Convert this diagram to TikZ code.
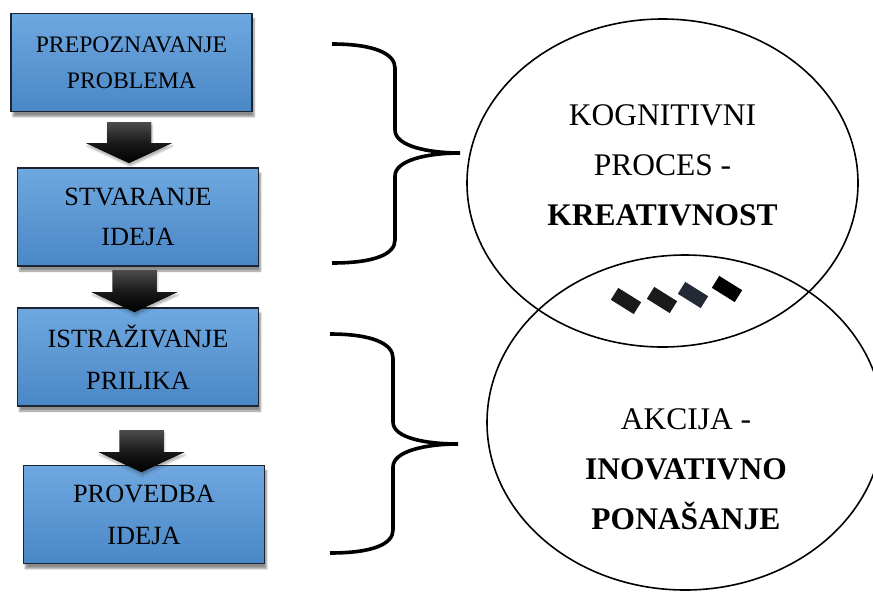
\documentclass[tikz,border=0pt]{standalone}
\usepackage{fontspec}
\setmainfont{Liberation Serif}
\usetikzlibrary{shadows.blur,shapes.geometric}
\definecolor{boxtop}{HTML}{6FA8E0}
\definecolor{boxbot}{HTML}{4A87C6}
\definecolor{boxline}{HTML}{1C2430}
\definecolor{rectA}{HTML}{1A1A1A}
\definecolor{rectC}{HTML}{222A36}
\newcommand\blkarrow[4]{% cx, ytop, ybase, ytip
  \fill[top color=black!70,bottom color=black,middle color=black!90,
        blur shadow={shadow xshift=1pt,shadow yshift=-3pt,shadow opacity=30}]
    (#1-22,#2) -- (#1+22,#2) -- (#1+22,#3) -- (#1+43,#3) -- (#1,#4)
    -- (#1-43,#3) -- (#1-22,#3) -- cycle;}
\begin{document}
\begin{tikzpicture}[x=1pt,y=-1pt,
  stepbox/.style={draw=boxline,line width=1.4pt,top color=boxtop,bottom color=boxbot,
    minimum width=241pt,minimum height=98pt,inner sep=0pt,align=center,
    blur shadow={shadow xshift=2pt,shadow yshift=-5pt,shadow opacity=45,shadow blur steps=6}},
  bracestyle/.style={line width=3.6pt},
  ovalstyle/.style={draw,ellipse,line width=1.6pt,inner sep=0pt},
  ovaltext/.style={align=center,font=\fontsize{31.5}{50}\selectfont},
  tile/.style={minimum width=27pt,minimum height=14pt,inner sep=0pt,rotate=-32}]
\useasboundingbox (0,0) rectangle (873,592);

% boxes
\node[stepbox,font=\fontsize{23.7}{36}\selectfont] (b1) at (131.5,62.5) {PREPOZNAVANJE\\PROBLEMA};
\node[stepbox,font=\fontsize{26.3}{40}\selectfont] (b2) at (138,217) {STVARANJE\\IDEJA};
\node[stepbox,font=\fontsize{26.3}{42}\selectfont] (b3) at (138,357) {ISTRAŽIVANJE\\PRILIKA};
\node[stepbox,font=\fontsize{26.3}{42}\selectfont] (b4) at (144,514.5) {PROVEDBA\\IDEJA};

% block arrows
\blkarrow{129}{122}{143}{163}
\blkarrow{134.5}{270}{292}{312}
\blkarrow{141.5}{430}{452}{472}

% braces
\draw[bracestyle] (332,44) .. controls (375,44) and (395,54) .. (395,68)
  -- (395,130) .. controls (395,146) and (428,153) .. (460,153)
  .. controls (428,153) and (395,160) .. (395,176)
  -- (395,240) .. controls (395,254) and (375,263) .. (332,263);
\draw[bracestyle] (330,334) .. controls (373,334) and (393,344) .. (393,358)
  -- (393,422) .. controls (393,438) and (426,444) .. (458,444)
  .. controls (426,444) and (393,451) .. (393,467)
  -- (393,530) .. controls (393,544) and (373,553) .. (330,553);

% ellipses
\node[ovalstyle,minimum width=391pt,minimum height=328pt] (e1) at (662.5,183) {};
\node[ovalstyle,minimum width=396pt,minimum height=335pt] (e2) at (685,422.5) {};

\node[ovaltext] (t1) at (662.5,165) {KOGNITIVNI\\PROCES -\\\textbf{KREATIVNOST}};
\node[ovaltext] (t2) at (686,469) {AKCIJA -\\\textbf{INOVATIVNO}\\\textbf{PONAŠANJE}};

% tiles
\node[tile,fill=rectA] (r1) at (626,301) {};
\node[tile,fill=rectA] (r2) at (662,300) {};
\node[tile,fill=rectC] (r3) at (693,295) {};
\node[tile,fill=black] (r4) at (727,289) {};
\end{tikzpicture}
\end{document}
